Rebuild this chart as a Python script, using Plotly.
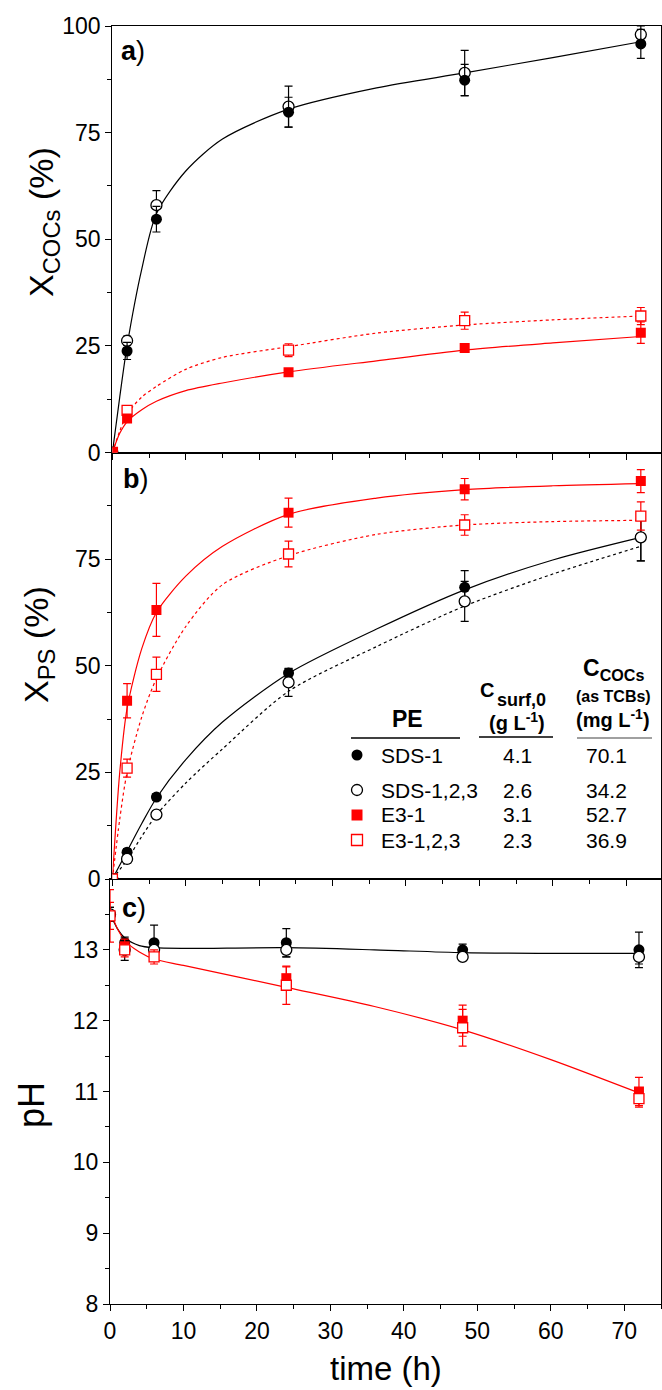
import plotly.graph_objects as go

# ---------------- data ----------------
t_pts = [0, 2, 6, 24, 48, 72]
t_red_a = [0, 2, 24, 48, 72]

# panel a : X_COCs (%)
a_sds1 = [0, 23.8, 54.7, 79.8, 87.3, 95.8]
a_sds1_err = [0, 2.0, 3.0, 3.5, 3.7, 3.4]
a_sds123 = [0, 26.2, 58.0, 81.1, 89.0, 98.0]
a_sds123_err = [0, 1.1, 3.4, 4.8, 5.3, 2.0]
a_e31 = [0, 8.0, 18.8, 24.5, 28.1]
a_e31_err = [0, 0.8, 0.8, 0.8, 2.5]
a_e3123 = [0, 9.9, 24.0, 30.9, 32.0]
a_e3123_err = [0, 0.8, 1.5, 2.0, 2.0]

# panel b : X_PS (%)
b_sds1 = [0, 6.3, 19.2, 48.3, 68.4, 80.1]
b_sds1_err = [0, 0.8, 0.8, 1.0, 3.9, 5.5]
b_sds123 = [0, 4.7, 15.1, 46.1, 65.1, 80.1]
b_sds123_err = [0, 1.0, 0.8, 3.3, 4.7, 5.5]
b_e31 = [0, 41.8, 63.1, 85.9, 91.4, 93.3]
b_e31_err = [0, 4.0, 6.2, 3.4, 2.5, 2.7]
b_e3123 = [0, 26.0, 48.0, 76.2, 83.0, 85.1]
b_e3123_err = [0, 2.1, 4.0, 3.0, 2.4, 3.3]

# panel c : pH
c_sds1 = [13.5, 13.1, 13.1, 13.1, 13.0, 13.0]
c_sds1_err = [0.1, 0.08, 0.25, 0.2, 0.08, 0.25]
c_sds123 = [13.5, 13.0, 13.0, 13.0, 12.9, 12.9]
c_sds123_err = [0.1, 0.15, 0.1, 0.1, 0.05, 0.1]
c_e31 = [13.48, 13.05, 12.9, 12.6, 12.0, 11.0]
c_e31_err = [0.37, 0.1, 0.1, 0.16, 0.22, 0.2]
c_e3123 = [13.48, 13.0, 12.9, 12.5, 11.9, 10.9]
c_e3123_err = [0.19, 0.1, 0.05, 0.27, 0.26, 0.12]

# fitted curves
fit_t = [0, 1, 2, 4, 6, 10, 15, 24, 36, 48, 60, 72]
fa_sds1 = [0, 13, 25, 43, 56, 66, 73.5, 80.5, 85.5, 89, 92.6, 96.3]
fa_e31 = [0, 4.5, 7.2, 10, 12, 14.5, 16.3, 18.9, 21.5, 24.0, 25.7, 27.2]
fa_e3123 = [0, 5, 9, 13, 15.5, 19.5, 22.3, 24.8, 28, 29.9, 31.1, 32.0]
fb_e31 = [0, 25, 40, 54, 62.5, 71, 78, 85.5, 89.3, 91.3, 92.2, 92.7]
fb_e3123 = [0, 14, 25, 38, 47, 59.2, 69, 75.8, 80.8, 83.0, 83.8, 84.1]
fit_t_b2 = [0, 2, 4, 6, 10, 15, 24, 36, 48, 60, 72]
fb_sds1 = [0, 6.5, 13, 19, 28, 36.8, 48.2, 58.6, 67.8, 74.8, 80.1]
fb_sds123 = [0, 4.5, 10, 15, 22.5, 30.5, 44, 54.5, 64, 71.5, 78]
fit_t_c = [0, 0.5, 1, 2, 4, 6, 10, 24, 36, 48, 60, 72]
fc_sds = [13.5, 13.4, 13.3, 13.17, 13.06, 13.03, 13.02, 13.03, 13.0, 12.96, 12.95, 12.95]
fc_e3 = [13.55, 13.42, 13.3, 13.13, 12.97, 12.87, 12.78, 12.47, 12.2, 11.87, 11.45, 10.98]

# table
pe_names = ["SDS-1", "SDS-1,2,3", "E3-1", "E3-1,2,3"]
csurf_vals = ["4.1", "2.6", "3.1", "2.3"]
ccocs_vals = ["70.1", "34.2", "52.7", "36.9"]

# ---------------- styling ----------------
FONT = "Arial, 'Liberation Sans', sans-serif"
RED = "#FF0000"
BLK = "#000000"
W, H = 662, 1390
L, R, T, B = 110, 1, 26, 86
PW, PH = W - L - R, H - T - B


def px(x):
    return (x - L) / PW


def py(y):
    return (H - B - y) / PH


fig = go.Figure()


def curve(x, y, color, dash, xa, ya):
    fig.add_trace(go.Scatter(x=x, y=y, mode="lines", xaxis=xa, yaxis=ya,
                             line=dict(color=color, width=1.2, dash=dash, shape="spline", smoothing=0.8),
                             showlegend=False, hoverinfo="skip"))


def pts(x, y, err, color, symbol, filled, xa, ya):
    size = 11 if symbol == "circle" else 10
    fig.add_trace(go.Scatter(
        x=x, y=y, mode="markers", xaxis=xa, yaxis=ya, showlegend=False,
        error_y=dict(type="data", array=err, color=color, thickness=1.2, width=4),
        marker=dict(symbol=symbol, size=size, color=color if filled else "white",
                    line=dict(color=color, width=0 if filled else 1.3))))


# panel a (x3, y3)
curve(fit_t, fa_sds1, BLK, "solid", "x3", "y3")
curve(fit_t, fa_e31, RED, "solid", "x3", "y3")
curve(fit_t, fa_e3123, RED, "dot", "x3", "y3")
pts(t_pts, a_sds123, a_sds123_err, BLK, "circle", False, "x3", "y3")
pts(t_pts, a_sds1, a_sds1_err, BLK, "circle", True, "x3", "y3")
pts(t_red_a, a_e3123, a_e3123_err, RED, "square", False, "x3", "y3")
pts(t_red_a, a_e31, a_e31_err, RED, "square", True, "x3", "y3")

# panel b (x2, y2)
curve(fit_t, fb_e31, RED, "solid", "x2", "y2")
curve(fit_t, fb_e3123, RED, "dot", "x2", "y2")
curve(fit_t_b2, fb_sds1, BLK, "solid", "x2", "y2")
curve(fit_t_b2, fb_sds123, BLK, "dot", "x2", "y2")
pts(t_pts, b_sds1, b_sds1_err, BLK, "circle", True, "x2", "y2")
pts(t_pts, b_sds123, b_sds123_err, BLK, "circle", False, "x2", "y2")
pts(t_pts, b_e31, b_e31_err, RED, "square", True, "x2", "y2")
pts(t_pts, b_e3123, b_e3123_err, RED, "square", False, "x2", "y2")

# panel c (x, y)
curve(fit_t_c, fc_sds, BLK, "solid", "x", "y")
curve(fit_t_c, fc_e3, RED, "solid", "x", "y")
pts(t_pts, c_sds1, c_sds1_err, BLK, "circle", True, "x", "y")
pts(t_pts, c_sds123, c_sds123_err, BLK, "circle", False, "x", "y")
pts(t_pts, c_e31, c_e31_err, RED, "square", True, "x", "y")
pts(t_pts, c_e3123, c_e3123_err, RED, "square", False, "x", "y")

tickfont = dict(family=FONT, size=23, color="black")
axcommon = dict(showline=True, linecolor="black", linewidth=1.3, mirror=True,
                ticks="outside", ticklen=6, tickwidth=1.2, tickcolor="black",
                showgrid=False, zeroline=False, tickfont=tickfont)

dc = (1304 - 879) / PH
db = (1304 - 452.5) / PH
xab_dom = [2.4 / PW, 1]

fig.update_layout(
    width=W, height=H, margin=dict(l=L, r=R, t=T, b=B),
    paper_bgcolor="white", plot_bgcolor="white",
    font=dict(family=FONT, color="black"),
    xaxis=dict(domain=[0, 1], range=[0, 75], anchor="y", dtick=10, tick0=0,
               minor=dict(dtick=5, tick0=0, ticks="outside", ticklen=4, tickcolor="black", tickwidth=1.2),
               **axcommon),
    yaxis=dict(domain=[0, dc], range=[8, 14], anchor="x", tickvals=[8, 9, 10, 11, 12, 13],
               minor=dict(tickvals=[8.5, 9.5, 10.5, 11.5, 12.5, 13.5], ticks="outside", ticklen=4,
                          tickcolor="black", tickwidth=1.2),
               **axcommon),
    xaxis2=dict(domain=xab_dom, range=[0, 74.75], anchor="y2", dtick=10, tick0=0, showticklabels=False,
                minor=dict(dtick=5, tick0=0, ticks="outside", ticklen=4, tickcolor="black", tickwidth=1.2),
                **axcommon),
    yaxis2=dict(domain=[dc, db], range=[0, 100], anchor="x2", tickvals=[0, 25, 50, 75],
                minor=dict(tickvals=[12.5, 37.5, 62.5, 87.5], ticks="outside", ticklen=4,
                           tickcolor="black", tickwidth=1.2),
                **axcommon),
    xaxis3=dict(domain=xab_dom, range=[0, 74.75], anchor="y3", dtick=10, tick0=0, showticklabels=False,
                minor=dict(dtick=5, tick0=0, ticks="outside", ticklen=4, tickcolor="black", tickwidth=1.2),
                **axcommon),
    yaxis3=dict(domain=[db, 1], range=[0, 100], anchor="x3", tickvals=[0, 25, 50, 75, 100],
                minor=dict(tickvals=[12.5, 37.5, 62.5, 87.5], ticks="outside", ticklen=4,
                           tickcolor="black", tickwidth=1.2),
                **axcommon),
)

ann = []


def text(x, y, s, size, xanchor="center", yanchor="middle", angle=0):
    ann.append(dict(x=px(x), y=py(y), xref="paper", yref="paper", text=s, showarrow=False,
                    xanchor=xanchor, yanchor=yanchor, textangle=angle,
                    font=dict(family=FONT, size=size, color="black")))


# axis titles
text(43, 222, "X<sub>COCs</sub> (%)", 34, angle=-90)
text(38, 645, "X<sub>PS</sub> (%)", 34, angle=-90)
text(31, 1105, "pH", 36, angle=-90)
text(386, 1368, "time (h)", 33)

# panel labels
text(119, 51, "<b>a</b>)", 27, xanchor="left")
text(121, 479, "<b>b</b>)", 27, xanchor="left")
text(120, 908, "<b>c</b>)", 27, xanchor="left")

# table headers
text(407, 719, "<b>PE</b>", 23)
text(496, 690, "<b>C</b>", 20, xanchor="right")
text(495, 700, "<b>surf,0</b>", 18, xanchor="left")
text(517, 721, "<b>(g L<sup>-1</sup>)</b>", 20)
text(613, 669, "<b>C<sub>COCs</sub></b>", 23)
text(613, 696, "<b>(as TCBs)</b>", 16)
text(613, 719, "<b>(mg L<sup>-1</sup>)</b>", 20)

row_y = [755, 790, 815, 840]
for name, cs, cc, yy in zip(pe_names, csurf_vals, ccocs_vals, row_y):
    text(379, yy, name, 21, xanchor="left")
    text(517, yy, cs, 21)
    text(606, yy, cc, 21)

shapes = []
for (x0, x1, yy, col) in [(351, 460, 738, "black"), (479, 553, 737, "black"), (577, 652, 738, "#808080")]:
    shapes.append(dict(type="line", xref="paper", yref="paper", x0=px(x0), x1=px(x1),
                       y0=py(yy), y1=py(yy), line=dict(color=col, width=1.5)))

sym = [("circle", BLK, True), ("circle", BLK, False), ("rect", RED, True), ("rect", RED, False)]
for (kind, col, filled), yy in zip(sym, row_y):
    shapes.append(dict(type=kind, xref="paper", yref="paper", xsizemode="pixel", ysizemode="pixel",
                       xanchor=px(357), yanchor=py(yy), x0=-5.5, x1=5.5, y0=-5.5, y1=5.5,
                       fillcolor=col if filled else "white",
                       line=dict(color=col, width=0 if filled else 1.3)))

fig.update_layout(annotations=ann, shapes=shapes)

fig.write_html("out.html", config={"displayModeBar": False},
               post_script="document.body.style.margin='0';document.body.style.padding='0';")
